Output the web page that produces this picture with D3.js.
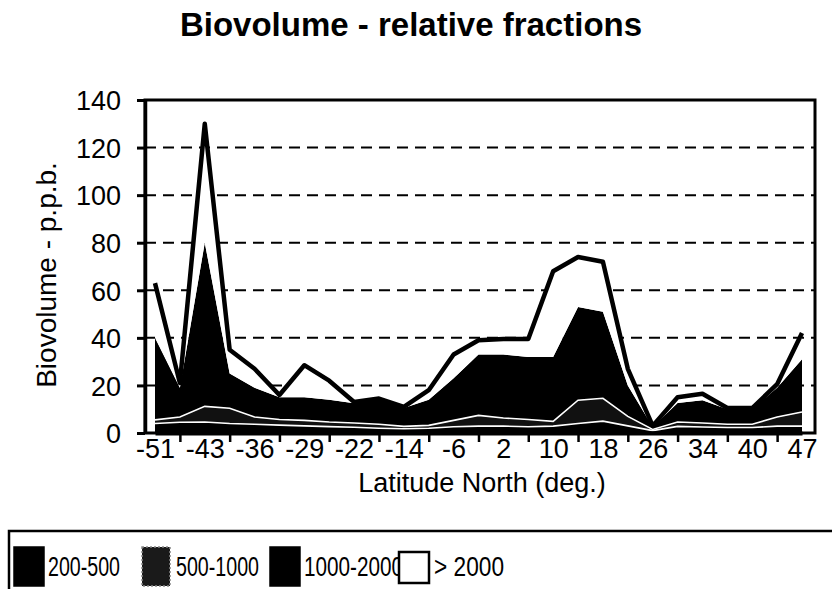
<!DOCTYPE html>
<html>
<head>
<meta charset="utf-8">
<script src="https://cdn.jsdelivr.net/npm/d3@7"></script>
<style>
  body { margin: 0; background: #fff; }
  svg { font-family: "Liberation Sans", Arial, sans-serif; }
</style>
</head>
<body>
<svg id="chart" width="832" height="589"></svg>
<script>
// latitude categories (only every other one gets a label)
const latitudes = ['-51', '-47', '-43', '-40', '-36', '-33', '-29', '-26', '-22', '-18', '-14', '-10', '-6', '-2',
  '2', '6', '10', '14', '18', '22', '26', '30', '34', '37', '40', '44', '47'];
const tickLabels = ['-51', '-43', '-36', '-29', '-22', '-14', '-6', '2', '10', '18', '26', '34', '40', '47'];
const yTicks = [0, 20, 40, 60, 80, 100, 120, 140];

// size fractions, p.p.b.
const s200to500 = [4, 4.5, 4.6, 4, 3.7, 3.3, 3, 2.7, 2.4, 2, 1.8, 2, 2.6, 2.9, 2.9, 2.6, 2.9, 4, 5, 3, 1, 2.8, 2.5, 2.3, 2.3, 2.9, 2.9];
const s500to1000 = [1.5, 2.2, 6.6, 6.4, 3, 2.4, 2.3, 1.9, 1.8, 1.7, 1, 1.2, 2.7, 4.5, 3.4, 3.1, 2, 9.8, 9.6, 4, 0.5, 1.8, 1.7, 1.4, 1.4, 3.8, 5.9];
const s1000to2000 = [34.5, 12.3, 68.8, 14.6, 12.3, 9.3, 9.7, 9.4, 8.3, 10.3, 7.7, 10.8, 17.7, 25.6, 26.7, 26.3, 27.1, 39.2, 36.4, 13, 1, 8, 9.6, 6.3, 6.3, 12.3, 22.2];
const sOver2000 = [23, 2, 50, 10, 8, 1, 13.5, 8, 0.5, 0.5, 0.5, 4, 10, 6, 6.5, 7.5, 36, 21, 21, 7, 0.5, 2.4, 2.7, 0.5, 0.5, 1.5, 11];

const seriesNames = ['200-500', '500-1000', '1000-2000', '> 2000'];

(function() {
  const svg = d3.select('#chart');
  const left = 145, right = 815, top = 100, bottom = 433;

  const rows = latitudes.map((lat, i) => ({
    lat: lat,
    '200-500': s200to500[i],
    '500-1000': s500to1000[i],
    '1000-2000': s1000to2000[i],
    '> 2000': sOver2000[i]
  }));
  const stacked = d3.stack().keys(seriesNames)(rows);

  const x = d3.scalePoint().domain(latitudes).range([155, 802]);
  const y = d3.scaleLinear().domain([0, 140]).range([bottom, top]);

  // title
  svg.append('text')
    .attr('x', 411).attr('y', 36)
    .attr('text-anchor', 'middle')
    .attr('font-size', 33).attr('font-weight', 'bold')
    .text('Biovolume - relative fractions');

  // dashed grid
  svg.append('g')
    .selectAll('line')
    .data(yTicks.filter(d => d > 0 && d < 140))
    .enter()
    .append('line')
    .attr('x1', left).attr('x2', right)
    .attr('y1', d => y(d)).attr('y2', d => y(d))
    .attr('stroke', '#000')
    .attr('stroke-width', 2)
    .attr('stroke-dasharray', '11,7');

  // stacked areas
  const fills = ['#000', '#111', '#000', '#fff'];
  const area = d3.area()
    .x(d => x(d.data.lat))
    .y0(d => y(d[0]))
    .y1(d => y(d[1]));
  svg.append('g')
    .selectAll('path')
    .data(stacked)
    .enter()
    .append('path')
    .attr('fill', (d, i) => fills[i])
    .attr('d', area);

  // thin white edges of the two small fractions
  const topLine = d3.line()
    .x(d => x(d.data.lat))
    .y(d => y(d[1]));
  svg.append('g')
    .selectAll('path')
    .data(stacked.slice(0, 2))
    .enter()
    .append('path')
    .attr('fill', 'none')
    .attr('stroke', '#fff')
    .attr('stroke-width', 1.6)
    .attr('d', topLine);

  // heavy outline of the total
  svg.append('path')
    .datum(stacked[3])
    .attr('fill', 'none')
    .attr('stroke', '#000')
    .attr('stroke-width', 4.5)
    .attr('stroke-linejoin', 'round')
    .attr('d', topLine);

  // frame
  svg.append('rect')
    .attr('x', left).attr('y', top)
    .attr('width', right - left).attr('height', bottom - top)
    .attr('fill', 'none')
    .attr('stroke', '#000')
    .attr('stroke-width', 3);

  // y axis
  const yAxis = svg.append('g')
    .attr('transform', `translate(${left},0)`)
    .call(d3.axisLeft(y).tickValues(yTicks).tickSize(8).tickSizeOuter(0).tickPadding(16));
  yAxis.select('.domain').attr('stroke-width', 3.5);
  yAxis.selectAll('.tick line').attr('stroke-width', 3);
  yAxis.selectAll('.tick text')
    .attr('font-size', 27)
    .attr('font-family', '"Liberation Sans", Arial, sans-serif')
    .attr('dy', '0.36em');

  // x axis: labels on every other latitude, small ticks in between
  const xAxis = svg.append('g')
    .attr('transform', `translate(0,${bottom})`)
    .call(d3.axisBottom(x).tickValues(tickLabels).tickSize(0).tickPadding(6).tickSizeOuter(0));
  xAxis.select('.domain').attr('stroke-width', 4);
  xAxis.selectAll('.tick text')
    .attr('font-size', 27)
    .attr('font-family', '"Liberation Sans", Arial, sans-serif')
    .attr('dy', '0.72em');
  const xMinor = svg.append('g')
    .attr('transform', `translate(0,${bottom})`)
    .call(d3.axisBottom(x).tickValues(latitudes.filter((d, i) => i % 2 === 1)).tickSize(9).tickFormat(''));
  xMinor.select('.domain').remove();
  xMinor.selectAll('.tick line').attr('stroke-width', 2.5);

  // axis titles
  svg.append('text')
    .attr('transform', 'translate(56,275) rotate(-90)')
    .attr('text-anchor', 'middle')
    .attr('font-size', 28)
    .text('Biovolume - p.p.b.');
  svg.append('text')
    .attr('x', 482).attr('y', 492)
    .attr('text-anchor', 'middle')
    .attr('font-size', 27)
    .text('Latitude North (deg.)');

  // legend
  const legend = svg.append('g');
  legend.append('rect')
    .attr('x', 9).attr('y', 531)
    .attr('width', 840).attr('height', 80)
    .attr('fill', 'none')
    .attr('stroke', '#000')
    .attr('stroke-width', 2.5);
  const legendX = [14, 142, 270, 399];
  const textWidth = [72, 83, 99, 70];
  const swatchFill = ['#000', '#1a1a1a', '#000', '#fff'];
  const item = legend.selectAll('g.item')
    .data(seriesNames)
    .enter()
    .append('g')
    .attr('class', 'item')
    .attr('transform', (d, i) => `translate(${legendX[i]},0)`);
  item.append('rect')
    .attr('x', 0).attr('y', (d, i) => i === 3 ? 552 : 547)
    .attr('width', (d, i) => i === 1 ? 28 : 30)
    .attr('height', (d, i) => i === 3 ? 31 : 39)
    .attr('fill', (d, i) => swatchFill[i])
    .attr('stroke', (d, i) => i === 1 ? '#888' : '#000')
    .attr('stroke-dasharray', (d, i) => i === 1 ? '2,2' : null)
    .attr('stroke-width', (d, i) => i === 3 ? 2.5 : 1.5);
  item.append('text')
    .attr('x', (d, i) => i === 3 ? 35 : 34)
    .attr('y', 576)
    .attr('font-size', 28)
    .attr('textLength', (d, i) => textWidth[i])
    .attr('lengthAdjust', 'spacingAndGlyphs')
    .text(d => d);
})();
</script>
</body>
</html>
